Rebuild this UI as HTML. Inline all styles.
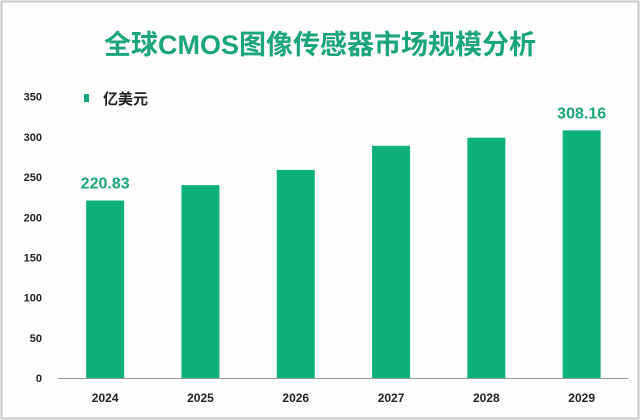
<!DOCTYPE html>
<html><head><meta charset="utf-8"><style>
body{margin:0;background:#fff;}
svg{display:block;font-family:"Liberation Sans","Noto Sans CJK SC",sans-serif;}
</style></head><body>
<svg width="640" height="420">
<rect x="1.5" y="1.5" width="637" height="417" fill="#fdfdfd" stroke="#c8c8c8" stroke-width="2"/>
<text x="320" y="54" text-anchor="middle" font-size="27" font-weight="bold" fill="#1ba57c">全球CMOS图像传感器市场规模分析</text>
<rect x="84" y="94" width="5" height="8" fill="#12a585"/>
<text x="103" y="104" font-size="15" font-weight="bold" fill="#222">亿美元</text>
<g id="axes"></g><g id="bars"></g>
</svg>
<script>
const categories=["2024","2025","2026","2027","2028","2029"];
const values=[220.83,240,259,289,299,308.16];
const valueLabels=["220.83","","","","","308.16"];
const yTicks=[0,50,100,150,200,250,300,350];
const ns="http://www.w3.org/2000/svg";
const x0=57.5,bandW=95.3,y0=378,k=0.8036,barW=38;
const y=v=>y0-v*k;
const xc=i=>x0+bandW*(i+0.5);
const axes=document.getElementById('axes'),bars=document.getElementById('bars');
function mk(tag,attrs,parent,txt){const e=document.createElementNS(ns,tag);for(const a in attrs)e.setAttribute(a,attrs[a]);if(txt!==undefined)e.textContent=txt;parent.appendChild(e);return e;}
yTicks.forEach(t=>{
  const e=mk('text',{x:42,y:y(t)+4,'text-anchor':'end','font-size':11,'font-weight':'bold',fill:'#222'},axes,String(t));
  
  
});
const ax=mk('line',{x1:58,x2:628,y1:y0+0.5,y2:y0+0.5,stroke:'#999','stroke-width':1},axes);


categories.forEach((c,i)=>{
  const b=mk('rect',{x:xc(i)-barW/2,y:y(values[i]),width:barW,height:values[i]*k,fill:'#0db27a'},bars);
  
  
  const l=mk('text',{x:xc(i),y:402,'text-anchor':'middle','font-size':12,'font-weight':'bold',fill:'#222'},axes,c);
  
  
  if(valueLabels[i]){
    const v=mk('text',{x:xc(i),y:y(values[i])-12,'text-anchor':'middle','font-size':16,'font-weight':'bold',fill:'#1ba57c'},bars,valueLabels[i]);
    
    
  }
});
</script>
</body></html>
